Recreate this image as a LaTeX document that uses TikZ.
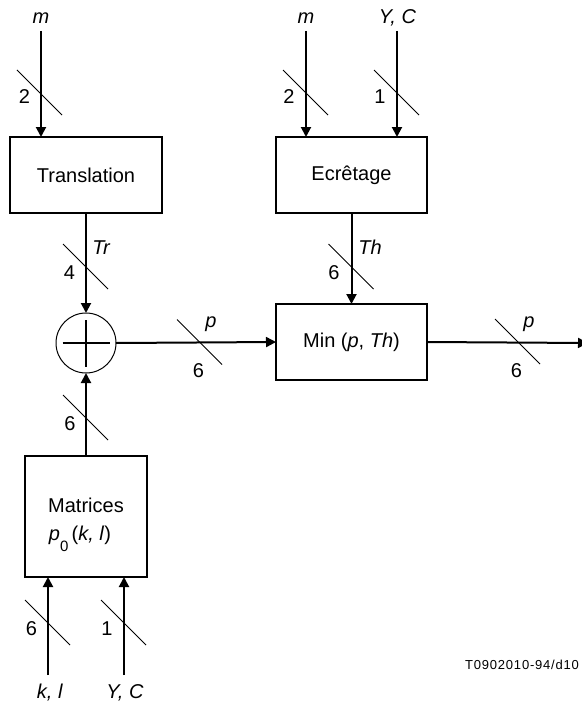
\documentclass[tikz,border=0pt]{standalone}
\usepackage{fontspec}
\setmainfont{Liberation Sans}
\usetikzlibrary{arrows.meta}
\newcommand\slashmark[2]{\draw[sl] (#1-22.5,#2-22.5) -- ++(45,45);}
\begin{document}
\begin{tikzpicture}[x=1pt,y=-1pt,
  box/.style={draw,line width=1.2pt,minimum width=152pt,minimum height=76pt,outer sep=0pt,inner sep=0pt,font=\fontsize{20}{24}\selectfont},
  arr/.style={line width=2pt,-{Triangle[length=10pt,width=10pt]}},
  ln/.style={line width=2pt},
  sl/.style={line width=0.8pt},
  lab/.style={font=\fontsize{20}{24}\selectfont,inner sep=0pt,anchor=base},
]
\useasboundingbox (0,0) rectangle (581,706);

% boxes
\node[box] (trans) at (86,175) {Translation};
\node[box,minimum width=151pt] (ecr) at (351.5,175) {Ecrêtage};
\node[box,minimum width=151pt] (min) at (351.5,342) {Min (\textit{p}, \textit{Th})};
\node[box,minimum width=122pt,minimum height=121pt] (mat) at (86,516.5) {};
\node[lab] (mattxt1) at (86,512) {Matrices};
\node[lab] (mattxt2) at (80,540) {\textit{p}\raisebox{-11pt}{\fontsize{15}{15}\selectfont 0}\,(\textit{k, l})};
\node[draw,circle,line width=1pt,minimum size=60pt,inner sep=0pt,outer sep=0pt] (sum) at (86,343) {};
\draw[ln] ([xshift=-23.5pt]sum.center) -- ([xshift=23.5pt]sum.center);
\draw[ln] ([yshift=-23.5pt]sum.center) -- ([yshift=23.5pt]sum.center);

% input coordinates
\coordinate (m1) at (41,31);
\coordinate (m2) at (306,31);
\coordinate (yc1) at (397,31);
\coordinate (kl) at (48,675);
\coordinate (yc2) at (124,675);
\coordinate (out) at (588,343);

% connectors
\draw[arr] (m1) -- (m1 |- trans.north);
\draw[arr] (m2) -- (m2 |- ecr.north);
\draw[arr] (yc1) -- (yc1 |- ecr.north);
\draw[arr] (trans.south) -- (sum.north);
\draw[arr] (ecr.south) -- (min.north);
\draw[arr] (sum.east) -- (min.west);
\draw[arr] (min.east) -- (out);
\draw[arr] (mat.north) -- (sum.south);
\draw[arr] (kl) -- (kl |- mat.south);
\draw[arr] (yc2) -- (yc2 |- mat.south);

% bus slashes
\slashmark{39.5}{92.5}
\slashmark{305.5}{92.5}
\slashmark{396.5}{92.5}
\slashmark{85.5}{266.5}
\slashmark{351}{266.5}
\slashmark{199.5}{342}
\slashmark{517.5}{341.5}
\slashmark{85.5}{417.5}
\slashmark{47.5}{622.5}
\slashmark{123.5}{622.5}

% labels
\node[lab] (lm1) at (41,24) {\textit{m}};
\node[lab] (lm2) at (306,24) {\textit{m}};
\node[lab] (lyc1) at (397.5,24) {\textit{Y, C}};
\node[lab] (n2a) at (24.5,104) {2};
\node[lab] (n2b) at (289,104) {2};
\node[lab] (n1a) at (380,104) {1};
\node[lab] (n4) at (69.5,279) {4};
\node[lab] (ltr) at (101.5,254) {\textit{Tr}};
\node[lab] (n6th) at (334,279) {6};
\node[lab] (lth) at (370,254) {\textit{Th}};
\node[lab] (lp1) at (211,327.5) {\textit{p}};
\node[lab] (n6p1) at (198.5,377) {6};
\node[lab] (lp2) at (529,327.5) {\textit{p}};
\node[lab] (n6p2) at (516.5,377) {6};
\node[lab] (n6m) at (70,430) {6};
\node[lab] (n6kl) at (31.5,635) {6};
\node[lab] (n1yc) at (107,635) {1};
\node[lab] (lkl) at (50,698) {\textit{k, l}};
\node[lab] (lyc2) at (125,698) {\textit{Y, C}};
\node[inner sep=0pt,anchor=base east,font=\fontsize{13}{13}\selectfont\addfontfeature{LetterSpace=6}] (ref) at (579,669) {T0902010-94/d10};
\end{tikzpicture}
\end{document}
